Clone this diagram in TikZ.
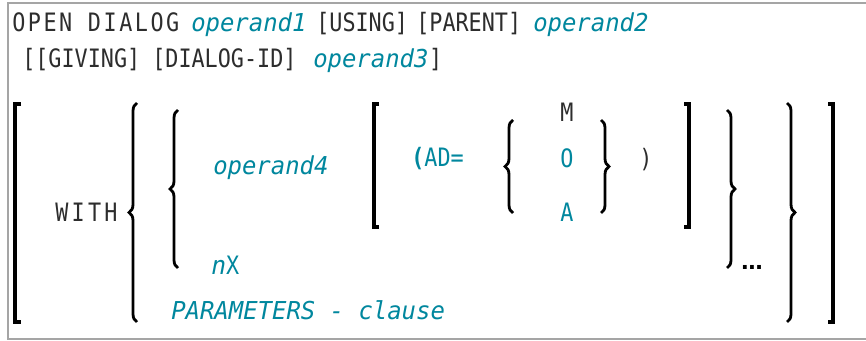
\documentclass[tikz,border=0pt]{standalone}
\usepackage{fontspec}
\usepackage{xcolor}
\usepackage{tikz}
\usetikzlibrary{decorations.pathreplacing}
\newfontfamily\synfont[FakeStretch=0.86]{DejaVu Sans Mono}
\newfontfamily\synit[FakeStretch=0.97]{DejaVu Sans Mono}
\newfontfamily\dotfont{DejaVu Sans}
\newcommand{\synsize}{\fontsize{19pt}{21pt}\selectfont}
\newcommand{\itsize}{\fontsize{18.5pt}{21pt}\selectfont}
\definecolor{nat@teal}{RGB}{0,135,158}
\definecolor{nat@text}{RGB}{45,45,45}
\definecolor{nat@frame}{RGB}{165,165,165}

\begin{document}
\begin{tikzpicture}[x=0.75pt,y=-0.75pt,
  kw/.style={font=\synfont\synsize,text=nat@text,inner sep=0pt,anchor=base west},
  opd/.style={font=\synit\itsize\itshape,text=nat@teal,inner sep=0pt,anchor=base west},
  val/.style={font=\synfont\synsize,text=nat@teal,inner sep=0pt,anchor=base west},
  sqbr/.style={line width=3pt,black,line cap=butt,line join=miter},
  lbrc/.style={decorate,decoration={brace,amplitude=6pt},line width=2.1pt,black},
  frame/.style={nat@frame,line width=1.2pt}
]
\useasboundingbox[fill=white] (0,0) rectangle (866,341);
\draw[frame] (866,3) -- (8,3) -- (8,339) -- (866,339);

% first two lines
\node[kw] (opendlg) at (12,32) {\addfontfeature{LetterSpace=10}OPEN DIALOG};
\node[opd] (opone) at (191,32) {operand1};
\node[kw] (using) at (316,32) {[USING]};
\node[kw] (parent) at (416,32) {[PARENT]};
\node[opd] (optwo) at (533,32) {operand2};
\node[kw] (giving) at (22,68) {[[GIVING]};
\node[kw] (dlgid) at (152,68) {[DIALOG-ID]};
\node[opd] (opthree) at (313,68) {operand3};
\node[kw] (closeid) at (opthree.base east) {]};

% WITH clause
\node[kw] (with) at (55,222) {\addfontfeature{LetterSpace=13}WITH};
\node[opd] (opfour) at (213,175) {operand4};
\node[val] (nx) at (211,275) {{\synit\itshape n}X};
\node[opd] (params) at (171,320) {PARAMETERS - clause};
\node[val] (adeq) at (411,167) {{\bfseries(}AD=};
\node[kw] (modem) at (560,122) {M};
\node[val] (modeo) at (560,168) {O};
\node[val] (modea) at (560,222) {A};
\node[kw] (rparen) at (639,168) {)};
\node[inner sep=0pt,anchor=base west,font=\dotfont\bfseries\fontsize{16pt}{18pt}\selectfont]
  (dots) at (741,270) {…};

% brackets
\draw[sqbr] (21,104) -- (15,104) -- (15,322) -- (21,322);
\draw[sqbr] (379,104) -- (374,104) -- (374,227) -- (379,227);
\draw[sqbr] (684,104) -- (689,104) -- (689,227) -- (684,227);
\draw[sqbr] (828,104) -- (833,104) -- (833,322) -- (828,322);

% braces
\draw[lbrc] (137,322) -- (137,103);
\draw[lbrc] (178,268) -- (178,110);
\draw[lbrc] (513,213) -- (513,120);
\draw[lbrc] (601,120) -- (601,213);
\draw[lbrc] (727,110) -- (727,268);
\draw[lbrc] (787,103) -- (787,322);
\end{tikzpicture}
\end{document}
